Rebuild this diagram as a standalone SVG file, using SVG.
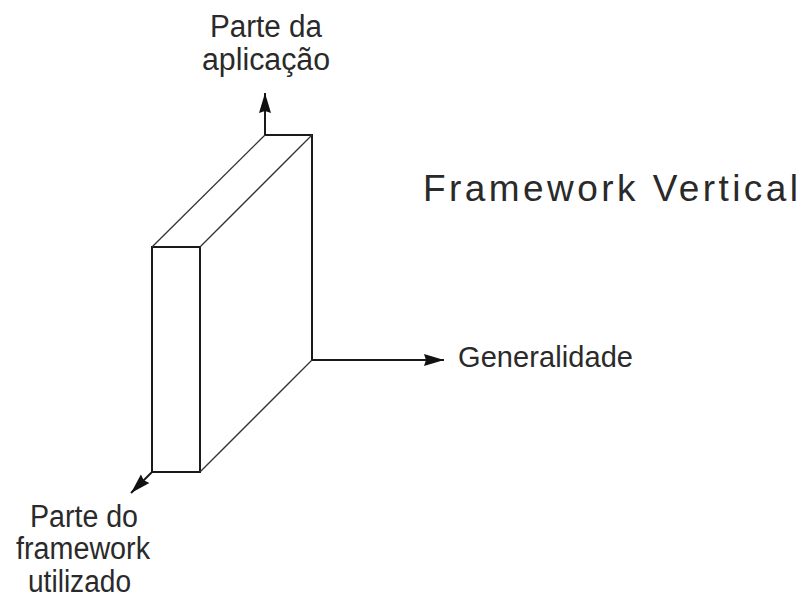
<svg xmlns="http://www.w3.org/2000/svg" width="804" height="599" viewBox="0 0 804 599">
<style>
.edge{stroke:#1a1a1a;stroke-width:2;fill:none}
.diag{stroke:#333;stroke-width:1.3;fill:none}
.lbl{font-family:"Liberation Sans",Arial,sans-serif;fill:#2a2a2a}
</style>
<defs>
<marker id="ah" viewBox="0 0 20 14" refX="20" refY="7" markerWidth="20" markerHeight="14" markerUnits="userSpaceOnUse" orient="auto">
<path d="M0,1 L20,7 L0,13 L2,7 Z" fill="#111"/>
</marker>
</defs>
<rect width="804" height="599" fill="#fff"/>
<g id="panel">
<rect class="edge" x="152" y="247" width="48" height="225"/>
<polyline class="edge" points="265,135 312,135 312,360"/>
<line class="diag" x1="152" y1="247" x2="265" y2="135"/>
<line class="diag" x1="200" y1="247" x2="312" y2="135"/>
<line class="diag" x1="200" y1="472" x2="312" y2="360"/>
</g>
<g id="connectors">
<line class="edge" x1="265" y1="135" x2="265" y2="93" marker-end="url(#ah)"/>
<line class="edge" x1="312" y1="360" x2="444" y2="360" marker-end="url(#ah)"/>
<line class="edge" x1="152" y1="472" x2="131" y2="493" marker-end="url(#ah)"/>
</g>
<g id="axis-app">
<text class="lbl" x="210" y="37" font-size="31" textLength="112" lengthAdjust="spacingAndGlyphs">Parte da</text>
<text class="lbl" x="202" y="70" font-size="31" textLength="128" lengthAdjust="spacingAndGlyphs">aplicação</text>
</g>
<g id="axis-gen">
<text class="lbl" x="458" y="367" font-size="29" textLength="175" lengthAdjust="spacing">Generalidade</text>
</g>
<g id="axis-fw">
<text class="lbl" x="30" y="527" font-size="31" textLength="108" lengthAdjust="spacingAndGlyphs">Parte do</text>
<text class="lbl" x="16" y="559" font-size="31" textLength="134" lengthAdjust="spacingAndGlyphs">framework</text>
<text class="lbl" x="28" y="592" font-size="31" textLength="103" lengthAdjust="spacingAndGlyphs">utilizado</text>
</g>
<g id="title">
<text class="lbl" x="423" y="201" font-size="37" textLength="375" lengthAdjust="spacing">Framework Vertical</text>
</g>
</svg>
